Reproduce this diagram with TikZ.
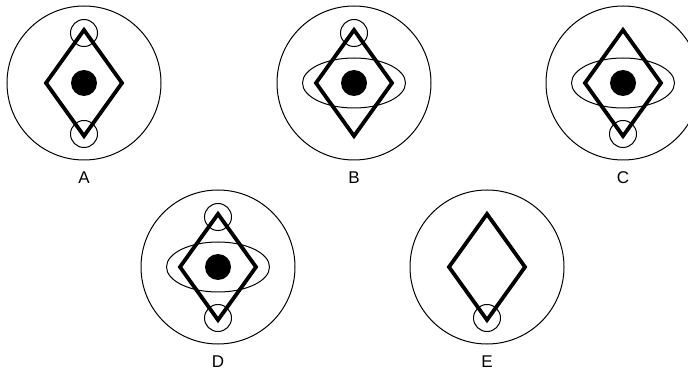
\documentclass[tikz,border=0pt]{standalone}
\usepackage{fontspec}
\setmainfont{Liberation Sans}
\usetikzlibrary{calc}

\begin{document}
\begin{tikzpicture}[
  x=1pt, y=-1pt,
  line join=miter,
  ring/.style={line width=1pt},
  kite/.style={line width=3.8pt},
  tag/.style={font=\fontsize{17}{20}\selectfont, inner sep=0pt}
]
  \useasboundingbox (0,0) rectangle (688,371);

  % Figure centres
  \coordinate (A) at (84,83);
  \coordinate (B) at (354,83);
  \coordinate (C) at (623,83);
  \coordinate (D) at (218,267);
  \coordinate (E) at (487,267);

  % Outer circles
  \foreach \f in {A,B,C,D,E}
    \draw[ring] (\f) circle (77);

  % Flat ellipses
  \foreach \f in {B,C,D}
    \draw[ring] (\f) ellipse (51.5 and 25);

  % Black dots
  \foreach \f in {A,B,C,D}
    \fill (\f) circle (13);

  % Diamonds
  \foreach \f in {A,B,C,D,E}
    \draw[kite] ($(\f)+(0,-53)$) -- ++(38,53) -- ++(-38,53) -- ++(-38,-53) -- cycle;

  % Small circles at the tips
  \foreach \f in {A,B,D}
    \draw[ring] ($(\f)+(0,-50)$) circle (13.5);
  \foreach \f in {A,C,D,E}
    \draw[ring] ($(\f)+(0,51)$) circle (13.5);

  % Labels
  \node[tag] (labA) at ($(A)+(0,95)$) {A};
  \node[tag] (labB) at ($(B)+(0,95)$) {B};
  \node[tag] (labC) at ($(C)+(0,95)$) {C};
  \node[tag] (labD) at ($(D)+(0,95)$) {D};
  \node[tag] (labE) at ($(E)+(0,95)$) {E};
\end{tikzpicture}
\end{document}
